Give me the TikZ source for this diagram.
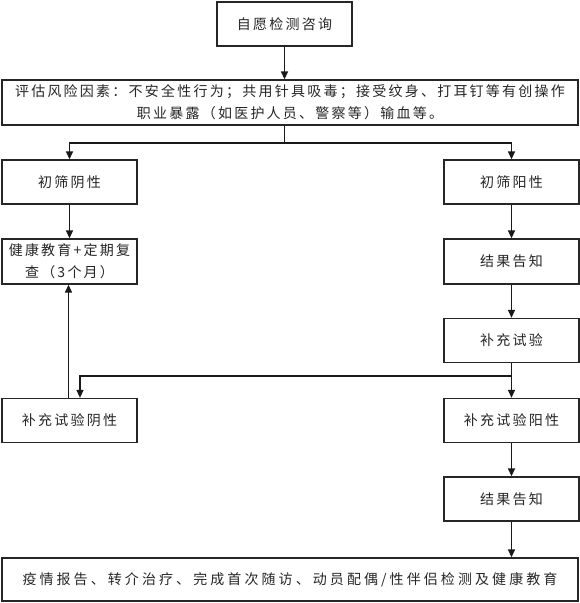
\documentclass[tikz,border=0pt]{standalone}
\usepackage{fontspec}
\newfontfamily\cjk[LetterSpace=16]{Noto Sans CJK SC}
\newfontfamily\cjkwide[LetterSpace=22]{Noto Sans CJK SC}
\usetikzlibrary{arrows.meta}
\begin{document}
\begin{tikzpicture}[x=1pt,y=-1pt,
  box/.style={draw=black!85, line width=1.3pt, inner sep=0pt, minimum width=135pt, minimum height=44pt,
    font=\cjk\fontsize{14}{22}\selectfont, align=center, text=black!85},
  wide/.style={box, minimum width=576pt},
  arr/.style={-{Triangle[length=8pt,width=7pt]}, line width=1.3pt, draw=black!90}]
\useasboundingbox (0,0) rectangle (580,603);
\fill[white] (0,0) rectangle (580,603);
\node[box] (b1) at (284.5,24) {自愿检测咨询};
\node[wide, minimum height=45pt] (b2) at (290,102.5) {评估风险因素：不安全性行为；共用针具吸毒；接受纹身、打耳钉等有创操作\\职业暴露（如医护人员、警察等）输血等。};
\node[box] (n3) at (69.5,182) {初筛阴性};
\node[box] (n4) at (511.5,182) {初筛阳性};
\node[box, minimum height=45pt] (n5) at (69.5,261.5) {健康教育+定期复\\查（3个月）};
\node[box, minimum height=45pt] (n6) at (511.5,261.5) {结果告知};
\node[box] (n7) at (511.5,340.5) {补充试验};
\node[box] (n8) at (69.5,420.5) {补充试验阴性};
\node[box] (n9) at (511.5,420.5) {补充试验阳性};
\node[box] (n10) at (511.5,499) {结果告知};
\node[wide, minimum height=43pt, font=\cjkwide\fontsize{14}{22}\selectfont] (n11) at (290,579.5) {疫情报告、转介治疗、完成首次随访、动员配偶/性伴侣检测及健康教育};
\coordinate (br) at (284.5,143);
\coordinate (br2) at (511.5,376);
\draw[arr] (b1.south) -- (b1.south |- b2.north);
\draw[arr] (b2.south -| br) -- (br) -| (n3.north);
\draw[arr] (br) -| (n4.north);
\draw[arr] (n3) -- (n5);
\draw[arr] (n4) -- (n6);
\draw[arr] (n6) -- (n7);
\draw[arr] (n7.south) -- (br2) -| ([xshift=10.5pt]n8.north);
\draw[arr] (br2) -- (n9.north);
\draw[arr] ([xshift=-1pt]n8.north) -- ([xshift=-1pt]n5.south);
\draw[arr] (n9) -- (n10);
\draw[arr] (n10.south) -- (n10.south |- n11.north);
\end{tikzpicture}
\end{document}
